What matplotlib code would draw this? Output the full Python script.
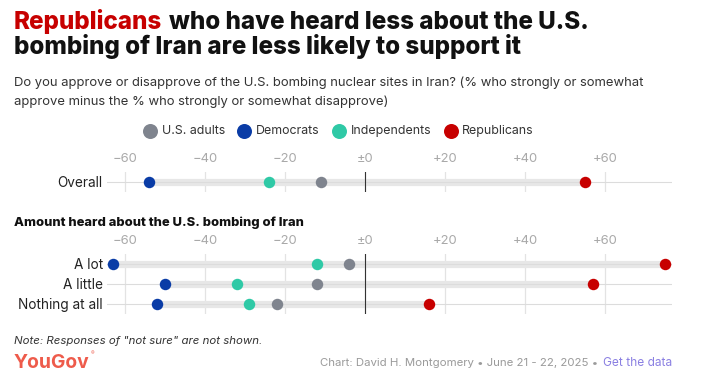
import matplotlib
matplotlib.use('Agg')
import matplotlib.pyplot as plt
from matplotlib.lines import Line2D

# ---------------- data ----------------
groups = ['U.S. adults', 'Democrats', 'Independents', 'Republicans']
group_colors = ['#7f848e', '#0a3ca6', '#2fc9a6', '#c70000']

overall_labels = ['Overall']
overall_us_adults = [-11]
overall_democrats = [-54]
overall_independents = [-24]
overall_republicans = [55]

heard_labels = ['A lot', 'A little', 'Nothing at all']
heard_us_adults = [-4, -12, -22]
heard_democrats = [-63, -50, -52]
heard_independents = [-12, -32, -29]
heard_republicans = [75, 57, 16]

x_ticks = [-60, -40, -20, 0, 20, 40, 60]
x_tick_labels = ['\u221260', '\u221240', '\u221220', '\u00b10', '+20', '+40', '+60']

# ---------------- layout helpers ----------------
W, H = 704, 392
fig = plt.figure(figsize=(W / 100, H / 100), dpi=100)
fig.patch.set_facecolor('white')
renderer = fig.canvas.get_renderer()

plt.rcParams['font.family'] = ['Inter', 'DejaVu Sans']


def fx(px):
    return px / W


def fy(py):
    return 1 - py / H


def width_px(t):
    return t.get_window_extent(renderer).width


def fit(t, target):
    t.set_fontsize(t.get_fontsize() * target / width_px(t))
    return t


XLIM = (-64.65, 76.7)
AX_L, AX_R = 106.7, 672


def make_panel(top_px, bottom_px, labels, series):
    ax = fig.add_axes([fx(AX_L), fy(bottom_px), fx(AX_R - AX_L), (bottom_px - top_px) / H])
    n = len(labels)
    ax.set_xlim(*XLIM)
    ax.set_ylim(n - 0.5, -0.5)
    for sp in ax.spines.values():
        sp.set_visible(False)
    ax.set_facecolor('none')
    ax.xaxis.tick_top()
    ax.set_xticks(x_ticks)
    ax.set_xticklabels(x_tick_labels)
    ax.tick_params(axis='x', length=0, pad=5, labelsize=9.4, labelcolor='#a9a9a9')
    ax.set_yticks(range(n))
    ax.set_yticklabels(labels)
    ax.tick_params(axis='y', length=0, pad=2.8, labelsize=9.8, labelcolor='#222222')
    ax.grid(axis='x', color='#e3e3e3', lw=0.9, zorder=0)
    ax.set_axisbelow(True)
    for i in range(n):
        vals = [s[i] for s in series]
        ax.hlines(i, min(vals), max(vals), color='#e7e7e7', lw=5.2, zorder=1)
        ax.axhline(i, color='#dcdcdc', lw=0.8, zorder=1.5)
    ax.axvline(0, color='#333333', lw=0.8, zorder=2)
    for s, c in zip(series, group_colors):
        ax.scatter(s, range(n), s=68, color=c, zorder=3, linewidths=0, clip_on=False)
    return ax


make_panel(171.5, 192, overall_labels,
           [overall_us_adults, overall_democrats, overall_independents, overall_republicans])
make_panel(253.7, 314, heard_labels,
           [heard_us_adults, heard_democrats, heard_independents, heard_republicans])

# ---------------- title ----------------
t2 = fig.text(fx(14), fy(54.3), 'bombing of Iran are less likely to support it',
              fontsize=15, fontweight='heavy', color='#111111', va='baseline')
fit(t2, 520 - 14)
fs = t2.get_fontsize()
t1a = fig.text(fx(14), fy(29.3), 'Republicans', fontsize=fs, fontweight='heavy',
               color='#c70000', va='baseline')
wa = width_px(t1a)
fig.text(fx(14 + wa + fs * 1.389 * 0.26), fy(29.3), 'who have heard less about the U.S.',
         fontsize=fs, fontweight='heavy', color='#111111', va='baseline')

# ---------------- subtitle ----------------
s1 = fig.text(fx(14), fy(85.7),
              'Do you approve or disapprove of the U.S. bombing nuclear sites in Iran? (% who strongly or somewhat',
              fontsize=9, color='#333333', va='baseline')
fit(s1, 648 - 14)
fig.text(fx(14), fy(105.3), 'approve minus the % who strongly or somewhat disapprove)',
         fontsize=s1.get_fontsize(), color='#333333', va='baseline')

# ---------------- legend ----------------
leg_y = 130.7
x = 150
leg_fs = None
for name, c in zip(groups, group_colors):
    fig.add_artist(Line2D([fx(x)], [fy(leg_y)], marker='o', ms=10.8, color=c,
                          markeredgewidth=0, transform=fig.transFigure))
    t = fig.text(fx(x + 11.7), fy(leg_y), name, fontsize=9.5 if leg_fs is None else leg_fs,
                 color='#333333', va='center', ha='left')
    if leg_fs is None:
        fit(t, 63)
        leg_fs = t.get_fontsize()
    x = x + 11.7 + width_px(t) + 19.3

# ---------------- section label ----------------
sec = fig.text(fx(14), fy(223), 'Amount heard about the U.S. bombing of Iran',
               fontsize=9, fontweight='heavy', color='#111111', va='center')
fit(sec, 304 - 14)

# ---------------- footer ----------------
note = fig.text(fx(14), fy(344), 'Note: Responses of "not sure" are not shown.',
                fontsize=8.5, style='italic', color='#333333', va='baseline')
fit(note, 263 - 14)

yg = fig.text(fx(14), fy(367.7), 'YouGov', fontsize=15, fontweight='bold',
              color='#ee5b4b', va='baseline')
fit(yg, 76)
fig.text(fx(14 + 77), fy(355), '\u00ae', fontsize=4, color='#ee5b4b', va='baseline')

gd = fig.text(fx(672), fy(366), 'Get the data', fontsize=9, color='#8b80e2',
              va='baseline', ha='right')
fit(gd, 672 - 603)
cr = fig.text(fx(598), fy(366), 'Chart: David H. Montgomery \u2022 June 21 - 22, 2025 \u2022',
              fontsize=gd.get_fontsize(), color='#9a9a9a', va='baseline', ha='right')
fit(cr, 598 - 319)

fig.savefig('out.png', dpi=100, facecolor='white')
